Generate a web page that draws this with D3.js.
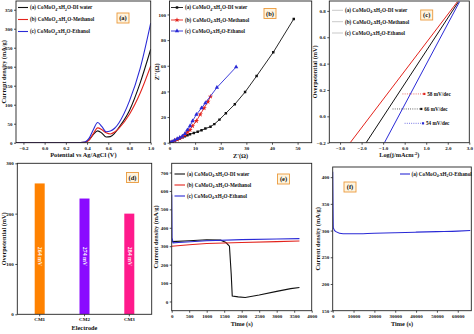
<!DOCTYPE html>
<html><head><meta charset="utf-8">
<script src="https://cdn.jsdelivr.net/npm/d3@7"></script>
<style>
body{margin:0;background:#fff}
svg{display:block}
text{font-family:"Liberation Serif","Times New Roman",serif;font-weight:bold;fill:#111}
</style>
</head><body>
<svg id="c" width="474" height="334"></svg>
<script>
// ---------- DATA ----------
// (a) LSV curves
const cvPotential = [-0.27, 0.3, 0.38, 0.42, 0.46, 0.5, 0.54, 0.58, 0.62, 0.66, 0.7, 0.8, 0.9, 1.0];
const cvWater    = [0, 0, 1, 8, 22, 31, 25, 15, 16, 25, 40, 85, 157, 246];
const cvMethanol = [0, 0, 1, 7, 24, 39, 34, 26, 23, 28, 38, 75, 130, 202];
const cvEthanol  = [0, 0, 2, 12, 35, 53, 42, 29, 31, 38, 52, 110, 195, 315];
const seriesNames = ["DI water", "Methanol", "Ethanol"];
const seriesColors = ["#111111", "#e3231c", "#2a2ad6"];

// (b) Nyquist
const nyWaterX = [0.5,1,2,3,4,5,6,7,8,9.5,11,12.5,14,16,17.5,19.5,22,25.5,29.5,34,40.5,48.5];
const nyWaterY = [0,0.5,1.5,2.5,3.3,4.2,5,5.8,6.6,7.6,8.6,9.7,11,12.5,14.5,18,23,30,39.5,52,70.5,96.5];
const nyMethX = [0.5,1,2,3,4,5,6,7,8,9,10.5,12,13.5,15,16];
const nyMethY = [0,0.5,1.5,2.5,3.5,4.5,6,8,10,13,17,22,27,32,36];
const nyEthX = [0.5,1,2,3,4,5,6,7,8,9,10.5,12.5,14,18.5,26];
const nyEthY = [0,0.8,2,3,4,5,7,10,13,17,22,27,31,43,59];

// (c) Tafel
const tafelStartX = [-1.79, -2.53, -0.94];
const tafelEndX   = [2.5, 2.45, 2.55];
const tafelStartY = -0.2, tafelEndY = 0.87;
const slopeLabels = ["66 mV/dec", "58 mV/dec", "54 mV/dec"];
const slopeY = [0.056, 0.17, -0.053];
const slopeXStart = [-0.56, -0.1, 0.0];
const slopeXEnd = [0.72, 0.86, 0.8];

// (d) Overpotential bars
const electrodes = ["CM1", "CM2", "CM3"];
const overpotential = [260, 230, 200];
const barLabels = ["264 mV", "274 mV", "284 mV"];
const barColors = ["#ff8200", "#8a0aff", "#ff1a8c"];

// (e) Chronoamperometry
const eWaterT = [0, 500, 1000, 1400, 1550, 1650, 1700, 1730, 1900, 2100, 2500, 3000, 3400, 3650];
const eWaterJ = [325, 330, 335, 333, 320, 300, 150, 30, 25, 22, 35, 55, 70, 76];
const eMethT = [0, 500, 1000, 2000, 3000, 3650];
const eMethJ = [300, 308, 315, 320, 325, 328];
const eEthT = [0, 10, 40, 200, 1000, 2000, 3000, 3650];
const eEthJ = [580, 345, 318, 320, 330, 336, 339, 341];

// (f) long-term stability
const fT = [0, 300, 1500, 5000, 10000, 20000, 30000, 40000, 50000, 60000, 66000];
const fJ = [410, 305, 298, 294, 294, 295, 296, 297, 298, 299, 300];

// ---------- DRAW ----------
const svg = d3.select("#c");
svg.append("rect").attr("width",474).attr("height",334).attr("fill","#fff");
let clipId = 0;

function panel(o){
  const g = svg.append("g");
  const x = o.band ? d3.scaleBand().domain(o.xDomain).range([o.left,o.right])
                   : d3.scaleLinear().domain(o.xDomain).range([o.left,o.right]);
  const y = d3.scaleLinear().domain(o.yDomain).range([o.bottom,o.top]);
  const xa = d3.axisBottom(x).tickSize(2).tickPadding(1.5);
  if (o.xTicks) xa.tickValues(o.xTicks);
  if (o.xFmt) xa.tickFormat(o.xFmt);
  const ya = d3.axisLeft(y).tickSize(2).tickPadding(1.5).tickValues(o.yTicks);
  if (o.yFmt) ya.tickFormat(o.yFmt);
  const gx = g.append("g").attr("transform",`translate(0,${o.bottom})`).call(xa);
  const gy = g.append("g").attr("transform",`translate(${o.left},0)`).call(ya);
  [gx,gy].forEach(a=>{
    a.select(".domain").remove();
    a.selectAll("line").attr("stroke","#222").attr("stroke-width",0.8);
    a.selectAll("text").attr("font-size",5).style("font-family","Liberation Serif").style("font-weight","bold").attr("fill","#222");
  });
  const id = "clip"+(clipId++);
  g.append("clipPath").attr("id",id).append("rect")
    .attr("x",o.left).attr("y",o.top).attr("width",o.right-o.left).attr("height",o.bottom-o.top);
  const plot = g.append("g").attr("clip-path",`url(#${id})`);
  g.append("rect").attr("x",o.left).attr("y",o.top).attr("width",o.right-o.left).attr("height",o.bottom-o.top)
    .attr("fill","none").attr("stroke","#222").attr("stroke-width",0.9);
  // labels
  const xl = g.append("text").attr("x",(o.left+o.right)/2).attr("y",o.xLabelY).attr("text-anchor","middle").attr("font-size",6.3);
  o.xLabel(xl);
  const yl = g.append("text").attr("transform",`translate(${o.yLabelX},${(o.top+o.bottom)/2}) rotate(-90)`)
    .attr("text-anchor","middle").attr("font-size",6.3);
  o.yLabel(yl);
  // panel tag
  const tg = g.append("g").attr("transform",`translate(${o.tag[0]},${o.tag[1]})`);
  tg.append("rect").attr("x",-6).attr("y",-5).attr("width",12).attr("height",10)
    .attr("fill","#fff4df").attr("stroke","#eb9a3c").attr("stroke-width",0.9);
  tg.append("text").attr("text-anchor","middle").attr("y",2.2).attr("font-size",6.5).text(o.tagText);
  return {g, x, y, plot};
}

function chemText(t, x, y, prefix, suffix, size){
  const s = size || 5.2;
  const tx = t.append("text").attr("x",x).attr("y",y).attr("font-size",s);
  tx.append("tspan").text(prefix + "CoMoO");
  tx.append("tspan").attr("dy",1.3).attr("font-size",s*0.72).text("4");
  tx.append("tspan").attr("dy",-1.3).text(".xH");
  tx.append("tspan").attr("dy",1.3).attr("font-size",s*0.72).text("2");
  tx.append("tspan").attr("dy",-1.3).text("O-" + suffix);
  return tx;
}
const cdLabel = t => t.text("Current density (mA/g)");
const intFmt = d3.format("d");

// ----- (a)
{
  const p = panel({left:16,right:150.7,top:1,bottom:142.7,xDomain:[-0.27,1.0],yDomain:[0,373],
    xTicks:[-0.2,0,0.2,0.4,0.6,0.8,1.0], xFmt:d3.format(".1f"), yTicks:[0,50,100,150,200,250,300,350],
    xLabelY:157, yLabelX:6, xLabel:t=>t.text("Potential vs Ag/AgCl (V)"), yLabel:cdLabel,
    tag:[123,18], tagText:"(a)"});
  const sets = [cvWater, cvMethanol, cvEthanol];
  sets.forEach((s,i)=>{
    const line = d3.line().x((d,k)=>p.x(cvPotential[k])).y(d=>p.y(d)).curve(d3.curveMonotoneX);
    p.plot.append("path").attr("d",line(s)).attr("fill","none").attr("stroke",seriesColors[i]).attr("stroke-width",1.1);
  });
  const labs = ["(a) ","(b) ","(c) "];
  [7.5,19.5,31.5].forEach((yy,i)=>{
    p.g.append("line").attr("x1",18).attr("x2",28).attr("y1",yy).attr("y2",yy).attr("stroke",seriesColors[i]).attr("stroke-width",1.1);
    chemText(p.g, 30, yy+1.8, labs[i], seriesNames[i]);
  });
}

// ----- (b)
{
  const p = panel({left:169.5,right:311.7,top:1,bottom:142.7,xDomain:[0,55.5],yDomain:[0,110.5],
    xTicks:[0,10,20,30,40,50], yTicks:[0,20,40,60,80,100],
    xLabelY:157.5, yLabelX:159, xLabel:t=>t.text("Z'(Ω)"), yLabel:t=>t.text("Z''(Ω)"),
    tag:[270,13.5], tagText:"(b)"});
  const sets = [[nyWaterX,nyWaterY],[nyMethX,nyMethY],[nyEthX,nyEthY]];
  const syms = [d3.symbolSquare, d3.symbolStar, d3.symbolTriangle];
  const sizes = [6, 9, 8];
  sets.forEach(([xs,ys],i)=>{
    const line = d3.line().x((d,k)=>p.x(xs[k])).y(d=>p.y(d));
    p.plot.append("path").attr("d",line(ys)).attr("fill","none").attr("stroke",seriesColors[i]).attr("stroke-width",0.9);
    p.plot.selectAll(null).data(ys).enter().append("path")
      .attr("d",d3.symbol().type(syms[i]).size(sizes[i]))
      .attr("transform",(d,k)=>`translate(${p.x(xs[k])},${p.y(d)})`).attr("fill",seriesColors[i]);
  });
  const labs = ["(a) ","(b) ","(c) "];
  [7.5,20,31].forEach((yy,i)=>{
    p.g.append("line").attr("x1",171).attr("x2",183).attr("y1",yy).attr("y2",yy).attr("stroke",seriesColors[i]).attr("stroke-width",0.9);
    p.g.append("path").attr("d",d3.symbol().type(syms[i]).size(sizes[i])()).attr("transform",`translate(177,${yy})`).attr("fill",seriesColors[i]);
    chemText(p.g, 185, yy+1.8, labs[i], seriesNames[i]);
  });
}

// ----- (c)
{
  const p = panel({left:329.3,right:469.3,top:1,bottom:142.7,xDomain:[-3.5,3],yDomain:[-0.2,0.875],
    xTicks:[-3,-2,-1,0,1,2,3], yTicks:[-0.2,0,0.2,0.4,0.6,0.8], yFmt:d3.format(".1f"),
    xLabelY:157, yLabelX:317, xLabel:t=>{
      t.append("tspan").text("Log(j/mAcm");
      t.append("tspan").attr("dy",-2.5).attr("font-size",4.5).text("-2");
      t.append("tspan").attr("dy",2.5).text(")");
    }, yLabel:t=>t.text("Overpotential (mV)"),
    tag:[426.7,15], tagText:"(c)"});
  tafelStartX.forEach((sx,i)=>{
    p.plot.append("line").attr("x1",p.x(sx)).attr("y1",p.y(tafelStartY))
      .attr("x2",p.x(tafelEndX[i])).attr("y2",p.y(tafelEndY))
      .attr("stroke",seriesColors[i]).attr("stroke-width",1);
  });
  slopeLabels.forEach((l,i)=>{
    p.g.append("line").attr("x1",p.x(slopeXStart[i])).attr("x2",p.x(slopeXEnd[i]))
      .attr("y1",p.y(slopeY[i])).attr("y2",p.y(slopeY[i]))
      .attr("stroke",seriesColors[i]).attr("stroke-width",0.8).attr("stroke-dasharray","0.8,1.4");
    p.g.append("rect").attr("x",p.x(slopeXEnd[i])).attr("y",p.y(slopeY[i])-1.1).attr("width",2.2).attr("height",2.2).attr("fill",seriesColors[i]);
    p.g.append("text").attr("x",p.x(slopeXEnd[i])+4).attr("y",p.y(slopeY[i])+1.8).attr("font-size",5.2).text(l);
  });
  const labs = ["(a) ","(b) ","(c) "];
  [10.3,21.7,33].forEach((yy,i)=>{
    p.g.append("line").attr("x1",332).attr("x2",343).attr("y1",yy).attr("y2",yy).attr("stroke","#bbb").attr("stroke-width",0.8);
    chemText(p.g, 345, yy+1.8, labs[i], seriesNames[i]);
  });
}

// ----- (d)
{
  const p = panel({band:true,left:17.3,right:151.7,top:163.3,bottom:314.3,xDomain:electrodes,yDomain:[0,300],
    yTicks:[0,100,200,300],
    xLabelY:330, yLabelX:6, xLabel:t=>t.text("Electrode"), yLabel:t=>t.text("Overpotential (mV)"),
    tag:[132.5,177.5], tagText:"(d)"});
  const bw = 10;
  electrodes.forEach((e,i)=>{
    const cx = p.x(e) + p.x.bandwidth()/2;
    p.plot.append("rect").attr("x",cx-bw/2).attr("width",bw).attr("y",p.y(overpotential[i]))
      .attr("height",p.y(0)-p.y(overpotential[i])).attr("fill",barColors[i]);
    p.g.append("text").attr("transform",`translate(${cx-1.8},${p.y(115)}) rotate(90)`)
      .attr("text-anchor","middle").attr("font-size",5.8).style("fill","#fff").text(barLabels[i]);
  });
}

// ----- (e)
{
  const p = panel({left:171.7,right:311.7,top:163.3,bottom:310.7,xDomain:[0,4000],yDomain:[-50,750],
    xTicks:[0,500,1000,1500,2000,2500,3000,3500,4000], xFmt:intFmt, yTicks:[0,100,200,300,400,500,600,700],
    xLabelY:326, yLabelX:158, xLabel:t=>t.text("Time (s)"), yLabel:cdLabel,
    tag:[283.5,179], tagText:"(e)"});
  const sets = [[eWaterT,eWaterJ],[eMethT,eMethJ],[eEthT,eEthJ]];
  sets.forEach(([ts,js],i)=>{
    const line = d3.line().x((d,k)=>p.x(ts[k])).y(d=>p.y(d));
    p.plot.append("path").attr("d",line(js)).attr("fill","none").attr("stroke",seriesColors[i]).attr("stroke-width",1.1);
  });
  const labs = ["(a) ","(b) ","(c) "];
  [174,185,196].forEach((yy,i)=>{
    p.g.append("line").attr("x1",174.5).attr("x2",185).attr("y1",yy).attr("y2",yy).attr("stroke",seriesColors[i]).attr("stroke-width",1.1);
    chemText(p.g, 187, yy+1.8, labs[i], seriesNames[i]);
  });
}

// ----- (f)
{
  const p = panel({left:332.7,right:471.3,top:167,bottom:310.7,xDomain:[0,66500],yDomain:[150,419],
    xTicks:[0,10000,20000,30000,40000,50000,60000], xFmt:intFmt, yTicks:[150,200,250,300,350,400],
    xLabelY:326, yLabelX:320, xLabel:t=>t.text("Time (s)"), yLabel:cdLabel,
    tag:[350,187], tagText:"(f)"});
  const line = d3.line().x((d,k)=>p.x(fT[k])).y(d=>p.y(d)).curve(d3.curveMonotoneX);
  p.plot.append("path").attr("d",line(fJ)).attr("fill","none").attr("stroke",seriesColors[2]).attr("stroke-width",1.1);
  p.g.append("line").attr("x1",400).attr("x2",410).attr("y1",174).attr("y2",174).attr("stroke",seriesColors[2]).attr("stroke-width",1.1);
  chemText(p.g, 411.5, 175.8, "(a) ", "Ethanol");
}
</script>
</body></html>
